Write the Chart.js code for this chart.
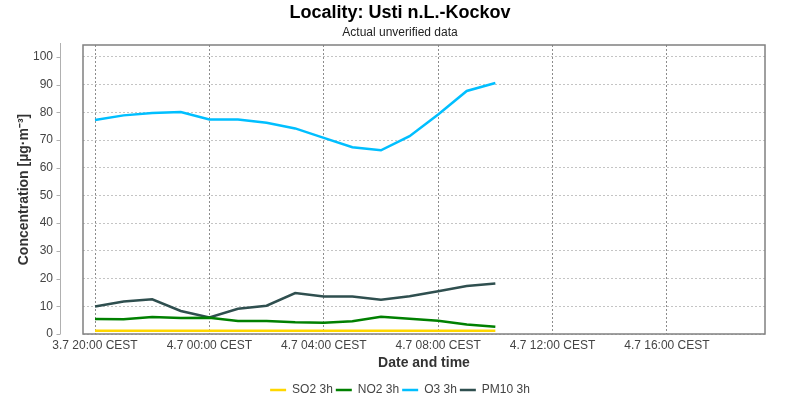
<!DOCTYPE html>
<html>
<head>
<meta charset="utf-8">
<script src="https://cdn.jsdelivr.net/npm/chart.js@4/dist/chart.umd.min.js"></script>
<style>
  html, body { margin: 0; padding: 0; background: #fff; }
  #wrap { width: 800px; height: 400px; }
</style>
</head>
<body>
<div id="wrap"><canvas id="chart"></canvas></div>
<script>
// hours after 3.7 20:00 CEST
const hours = [0, 1, 2, 3, 4, 5, 6, 7, 8, 9, 10, 11, 12, 13, 14];
const so2  = [1.2, 1.2, 1.2, 1.2, 1.2, 1.2, 1.2, 1.2, 1.2, 1.2, 1.2, 1.2, 1.2, 1.2, 1.2];
const no2  = [5.4, 5.3, 6.1, 5.8, 5.9, 4.7, 4.7, 4.2, 4.1, 4.6, 6.2, 5.5, 4.8, 3.4, 2.6];
const o3   = [77.2, 78.9, 79.8, 80.1, 77.4, 77.4, 76.2, 74.2, 70.8, 67.4, 66.3, 71.4, 79.2, 87.7, 90.6];
const pm10 = [9.9, 11.7, 12.5, 8.3, 6.0, 9.1, 10.2, 14.8, 13.5, 13.5, 12.4, 13.6, 15.4, 17.3, 18.2];

const xTickValues = [0, 4, 8, 12, 16, 20];
const xTickLabels = ['3.7 20:00 CEST', '4.7 00:00 CEST', '4.7 04:00 CEST', '4.7 08:00 CEST', '4.7 12:00 CEST', '4.7 16:00 CEST'];

const FONT = "'Liberation Sans', Arial, sans-serif";

function series(label, values, color) {
  return {
    label: label,
    data: hours.map((h, i) => ({ x: h, y: values[i] })),
    borderColor: color,
    backgroundColor: color,
    borderWidth: 2.5,
    pointRadius: 0,
    tension: 0
  };
}

// plot frame + detached y axis line with tick marks
const frame = {
  id: 'frame',
  afterDraw(chart) {
    const { ctx, chartArea: a, scales: { y } } = chart;
    ctx.save();
    ctx.strokeStyle = '#808080';
    ctx.lineWidth = 1.5;
    ctx.strokeRect(a.left, a.top, a.right - a.left, a.bottom - a.top);
    ctx.strokeStyle = '#b0b0b0';
    ctx.lineWidth = 1;
    const ax = a.left - 22.5;
    ctx.beginPath();
    ctx.moveTo(ax, a.top - 2);
    ctx.lineTo(ax, a.bottom);
    y.ticks.forEach(t => {
      const py = Math.round(y.getPixelForValue(t.value)) + 0.5;
      ctx.moveTo(ax - 4, py);
      ctx.lineTo(ax, py);
    });
    ctx.stroke();
    ctx.restore();
  }
};

new Chart(document.getElementById('chart'), {
  type: 'line',
  data: {
    datasets: [
      series('SO2 3h', so2, '#FFD700'),
      series('NO2 3h', no2, '#008000'),
      series('O3 3h', o3, '#00BFFF'),
      series('PM10 3h', pm10, '#2F4F4F')
    ]
  },
  options: {
    responsive: true,
    maintainAspectRatio: false,
    animation: false,
    layout: { padding: { left: 0, right: 0, top: 0, bottom: -6 } },
    plugins: {
      title: {
        display: true,
        text: 'Locality: Usti n.L.-Kockov',
        color: '#000',
        font: { family: FONT, size: 18, weight: 'bold' },
        padding: { top: 2, bottom: 0 }
      },
      subtitle: {
        display: true,
        text: 'Actual unverified data',
        color: '#222',
        font: { family: FONT, size: 12 },
        padding: { top: 2, bottom: 5 }
      },
      legend: {
        position: 'bottom',
        labels: {
          color: '#444',
          font: { family: FONT, size: 12 },
          usePointStyle: true,
          pointStyle: 'line',
          pointStyleWidth: 16,
          boxHeight: 12,
          padding: 3
        }
      },
      tooltip: { enabled: false }
    },
    scales: {
      x: {
        type: 'linear',
        min: -0.42,
        max: 23.43,
        afterBuildTicks: s => { s.ticks = xTickValues.map(v => ({ value: v })); },
        afterFit: s => { s.height = 47; },
        ticks: {
          color: '#444',
          font: { family: FONT, size: 12 },
          padding: 4,
          maxRotation: 0,
          callback: v => xTickLabels[xTickValues.indexOf(v)]
        },
        grid: { color: '#8c8c8c', drawTicks: false, lineWidth: 1 },
        border: { display: false, dash: [2, 2] },
        title: {
          display: true,
          text: 'Date and time',
          color: '#333',
          font: { family: FONT, size: 14, weight: 'bold' },
          padding: { top: 1, bottom: 9 }
        }
      },
      y: {
        min: 0,
        max: 104.3,
        afterFit: s => { s.width = 83; },
        ticks: {
          stepSize: 10,
          includeBounds: false,
          color: '#444',
          font: { family: FONT, size: 12 },
          padding: 30
        },
        grid: { color: '#c4c4c4', drawTicks: false, lineWidth: 1 },
        border: { display: false, dash: [2, 2] },
        title: {
          display: true,
          text: 'Concentration [µg·m⁻³]',
          color: '#333',
          font: { family: FONT, size: 14, weight: 'bold' },
          padding: { top: 16, bottom: 0 }
        }
      },
      // empty right-hand gutter so titles and legend centre on the whole canvas
      gutter: {
        type: 'linear',
        position: 'right',
        display: true,
        afterFit: s => { s.width = 35; },
        ticks: { display: false },
        grid: { drawOnChartArea: false, drawTicks: false },
        border: { display: false }
      }
    }
  },
  plugins: [frame]
});
</script>
</body>
</html>
